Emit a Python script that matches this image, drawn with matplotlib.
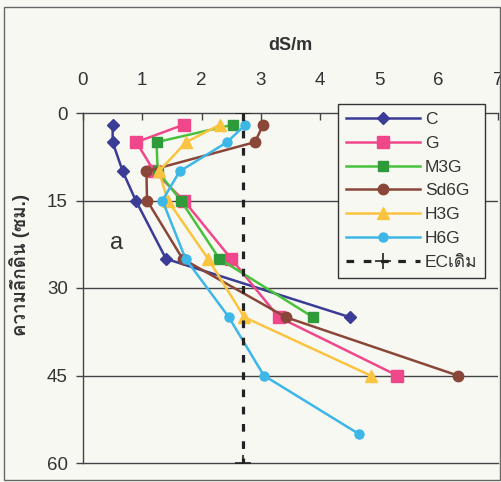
import matplotlib
matplotlib.use('Agg')
import matplotlib.pyplot as plt
from matplotlib import font_manager
from matplotlib.ft2font import FT2Font

# depth (cm) of each sampling point
depth = [2, 5, 10, 15, 25, 35, 45, 55]

# EC (dS/m), one list per treatment
c_ec = [0.5, 0.5, 0.67, 0.89, 1.4, 4.5]
g_ec = [1.7, 0.9, 1.2, 1.7, 2.5, 3.3, 5.3]
m3g_ec = [2.53, 1.24, 1.26, 1.65, 2.3, 3.88]
sd6g_ec = [3.04, 2.9, 1.07, 1.08, 1.68, 3.42, 6.32]
h3g_ec = [2.31, 1.74, 1.28, 1.43, 2.11, 2.72, 4.85]
h6g_ec = [2.74, 2.43, 1.63, 1.34, 1.73, 2.46, 3.05, 4.65]

ec_orig = 2.7
ec_depth = [0, 60]

labels = ['C', 'G', 'M3G', 'Sd6G', 'H3G', 'H6G', 'ECเดิม']

# find a font that has Thai glyphs
thai_font = 'DejaVu Sans'
for f in font_manager.fontManager.ttflist:
    try:
        if 0x0E04 in FT2Font(f.fname).get_charmap():
            thai_font = f.name
            break
    except Exception:
        pass

fam = ['Liberation Sans', thai_font, 'DejaVu Sans']
plt.rcParams['font.family'] = fam

bg = '#f8f8f3'
fig = plt.figure(figsize=(5.02, 4.82), dpi=100, facecolor=bg)
ax = fig.add_axes([83 / 502, 1 - 463 / 482, 415 / 502, 350 / 482])
ax.set_facecolor(bg)

series = [
    (c_ec, '#3a3c95', '#3a3c95', 'D', 6),
    (g_ec, '#f0478a', '#f0478a', 's', 8),
    (m3g_ec, '#48c23c', '#2e9a3a', 's', 7),
    (sd6g_ec, '#8a4638', '#8a4638', 'o', 7.5),
    (h3g_ec, '#fbc440', '#fbc440', '^', 8),
    (h6g_ec, '#3cb7e8', '#3cb7e8', 'o', 6.5),
]
for (vals, lc, mc, mk, ms), lab in zip(series, labels):
    ax.plot(vals, depth[:len(vals)], color=lc, lw=1.8, marker=mk, ms=ms,
            mfc=mc, mec=mc, label=lab, zorder=3)

ax.plot([ec_orig, ec_orig], ec_depth, color='#222222', lw=2.3,
        linestyle=(0, (2.4, 3.0)), marker='+', ms=12, mew=1.2,
        label=labels[6], zorder=4)

ax.set_xlim(0, 7)
ax.set_ylim(60, 0)
ax.set_xticks(range(8))
ax.set_yticks([0, 15, 30, 45, 60])

ax.xaxis.tick_top()
ax.tick_params(axis='x', direction='in', length=5, width=1, color='#444444',
               labelsize=13.5, pad=17)
ax.tick_params(axis='y', direction='out', length=5, width=1, color='#444444',
               labelsize=13.5, pad=6)
for lab in ax.get_xticklabels() + ax.get_yticklabels():
    lab.set_color('#333333')

ax.spines['right'].set_visible(False)
for s in ['top', 'left', 'bottom']:
    ax.spines[s].set_color('#444444')
    ax.spines[s].set_linewidth(1.0)

for d in [15, 30, 45]:
    ax.axhline(d, color='#444444', lw=1.0, zorder=1)

ax.text(0.57, 22.3, 'a', fontsize=17, color='#333333', ha='center', va='center')

ax.set_ylabel('ความลึกดิน (ซม.)', fontsize=13.5, fontweight='bold', color='#333333')
ax.yaxis.set_label_coords(-0.128, 0.566)

fig.text(290 / 502, 1 - 45 / 482, 'dS/m', fontsize=13, fontweight='bold',
         color='#333333', ha='center', va='center')

leg = fig.legend(loc='upper left', bbox_to_anchor=(338 / 502, 1 - 104 / 482),
                 fontsize=12.5, handlelength=4.3, handletextpad=0.25,
                 labelspacing=0.5, borderpad=0.45, borderaxespad=0,
                 fancybox=False, frameon=True, facecolor=bg,
                 edgecolor='#333333', framealpha=1)
leg.get_frame().set_linewidth(1.0)
for t in leg.get_texts():
    t.set_color('#333333')

# outer border of the picture
fig.patches.append(plt.Rectangle((4 / 502, 2 / 482), 496 / 502, 473 / 482,
                                 transform=fig.transFigure, fill=False,
                                 edgecolor='#666666', lw=1.0))

fig.savefig('out.png', dpi=100, facecolor=bg)
